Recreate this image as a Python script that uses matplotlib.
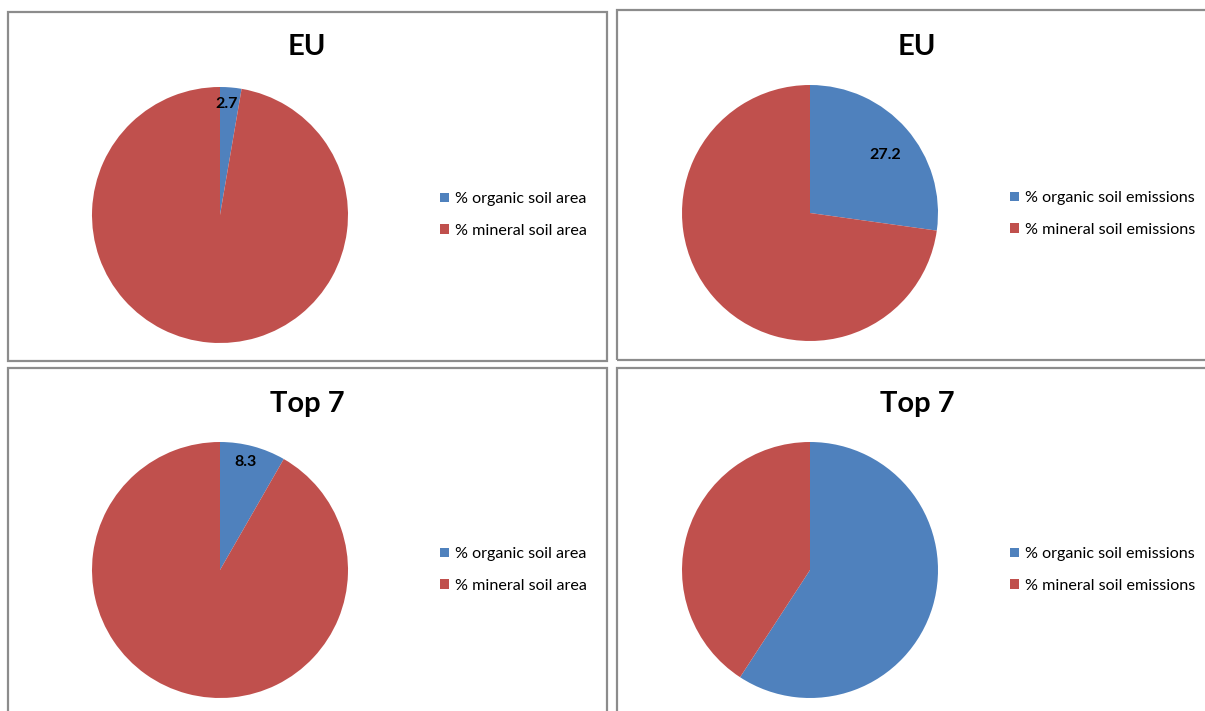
import numpy as np
import matplotlib
matplotlib.use('Agg')
import matplotlib.pyplot as plt
from matplotlib.patches import Rectangle

plt.rcParams['font.family'] = ['Lato', 'DejaVu Sans']

# data (percent shares)
titles = ['EU', 'EU', 'Top 7', 'Top 7']
organic = [2.7, 27.2, 8.3, 59.2]
mineral = [97.3, 72.8, 91.7, 40.8]
show_label = [True, True, True, False]
legend_labels = [
    ['% organic soil area', '% mineral soil area'],
    ['% organic soil emissions', '% mineral soil emissions'],
    ['% organic soil area', '% mineral soil area'],
    ['% organic soil emissions', '% mineral soil emissions'],
]
colors = ['#4F81BD', '#C0504D']

W, H = 1205, 711
fig = plt.figure(figsize=(W / 100, H / 100), dpi=100)

def fx(px):
    return px / W

def fy(py):
    return 1 - py / H

# panel frames (pixel boxes: left, top, right, bottom)
frames = [(8, 12, 607, 361), (617, 10, 1215, 360), (8, 368, 607, 720), (617, 368, 1215, 720)]
for l, t, r, b in frames:
    fig.patches.append(Rectangle((fx(l), fy(b)), fx(r - l), (b - t) / H,
                                 transform=fig.transFigure, fill=False,
                                 edgecolor='#8C8C8C', linewidth=1.6))

# pie centres, title centres, legend anchors (pixels)
centres = [(220, 215), (810, 213), (220, 570), (810, 570)]
title_pos = [(307, 47), (917, 47), (307, 404), (917, 404)]
legend_pos = [(434, 215), (1004, 214), (434, 570), (1004, 570)]
R = 128

for i in range(4):
    cx, cy = centres[i]
    ax = fig.add_axes([fx(cx - R), fy(cy + R), 2 * R / W, 2 * R / H])
    wedges, _ = ax.pie([organic[i], mineral[i]], colors=colors, startangle=90,
                       counterclock=False, radius=1,
                       wedgeprops=dict(linewidth=0))
    ax.set_xlim(-1, 1)
    ax.set_ylim(-1, 1)
    ax.set_aspect('equal')
    ax.axis('off')

    if show_label[i]:
        w = wedges[0]
        mid = np.deg2rad((w.theta1 + w.theta2) / 2)
        if organic[i] < 15:
            lx_, ly_ = 0.86 * np.cos(mid) - 0.02, 0.86 * np.sin(mid) + 0.01
        else:
            lx_, ly_ = 0.74 * np.cos(mid) + 0.03, 0.74 * np.sin(mid) - 0.03
        ax.text(lx_, ly_, f'{organic[i]:.1f}',
                ha='center', va='center', fontsize=11.5, fontweight='bold')

    tx, ty = title_pos[i]
    fig.text(fx(tx), fy(ty), titles[i], ha='center', va='center',
             fontsize=21, fontweight='bold')

    lx, ly = legend_pos[i]
    fig.legend(wedges, legend_labels[i], loc='center left',
               bbox_to_anchor=(fx(lx), fy(ly)), frameon=False,
               fontsize=11.6, handlelength=0.55, handleheight=0.55,
               handletextpad=0.35, labelspacing=1.08, borderaxespad=0)

fig.savefig('out.png', dpi=100)
